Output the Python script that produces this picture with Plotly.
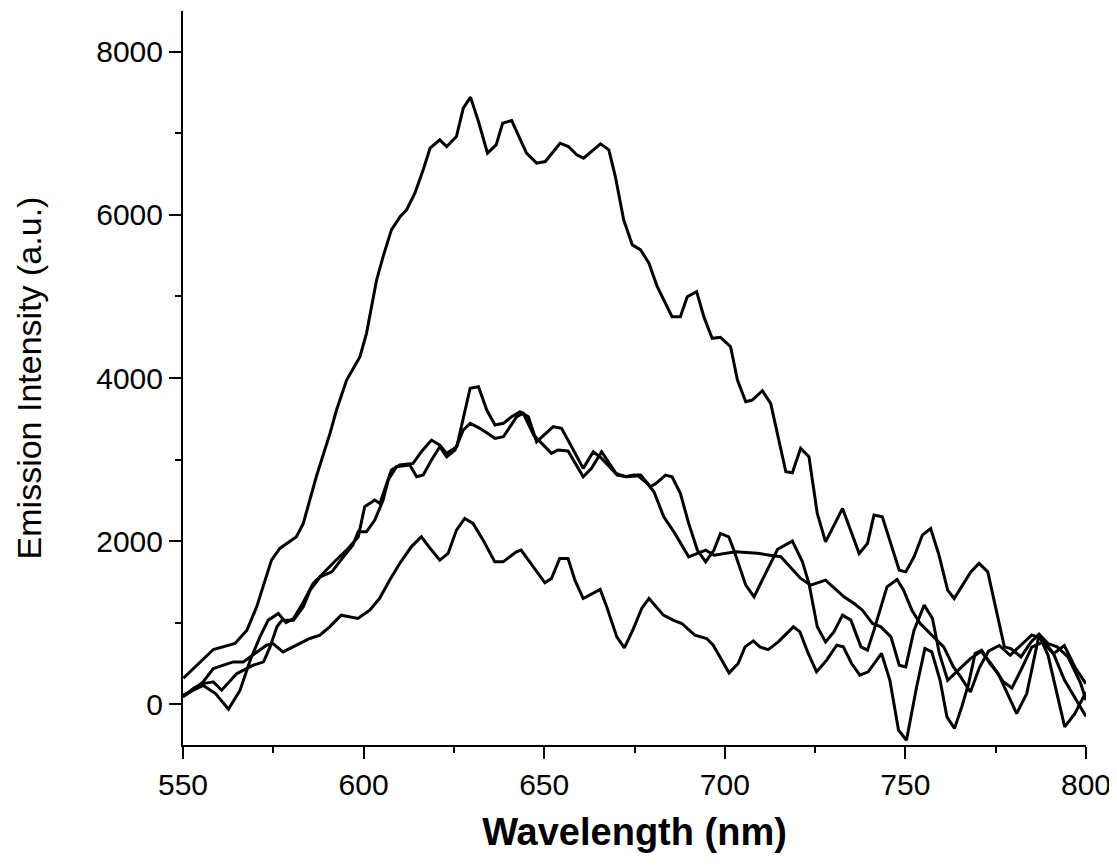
import plotly.graph_objects as go

# Curve A (strongest emission)
a_x = [550.1, 558.4, 564.4, 567.7, 570.4, 574.5, 576.8, 581.4, 583.3, 586.9, 590.7, 592.5, 595.3, 599.0,
       600.8, 603.6, 605.4, 607.7, 610.1, 611.9, 614.2, 616.5, 618.4, 621.1, 623.0, 625.7, 627.6, 629.6,
       631.8, 634.3, 636.7, 638.5, 641.0, 645.1, 647.9, 650.3, 654.4, 656.7, 659.0, 660.9, 665.6, 667.9,
       669.7, 672.0, 674.4, 676.7, 679.0, 681.3, 685.4, 687.7, 689.6, 692.2, 694.2, 696.5, 698.8, 701.6,
       703.5, 705.8, 707.6, 710.4, 712.7, 714.5, 716.9, 718.7, 721.0, 723.3, 725.6, 727.9, 732.6, 737.2,
       739.5, 741.3, 743.6, 748.3, 750.1, 752.4, 754.7, 757.0, 759.3, 761.7, 763.5, 768.1, 770.4, 772.8,
       775.1, 777.4, 779.2, 782.0, 784.8, 787.0, 789.5, 792.0, 795.0, 798.5, 800.0]
a_y = [319, 671, 745, 908, 1194, 1767, 1910, 2053, 2217, 2789, 3321, 3607, 3975, 4262,
       4548, 5202, 5489, 5816, 5979, 6061, 6266, 6552, 6818, 6920, 6838, 6961, 7309, 7444,
       7145, 6757, 6859, 7124, 7157, 6757, 6634, 6654, 6879, 6838, 6736, 6695, 6871, 6798,
       6470, 5939, 5632, 5571, 5407, 5120, 4752, 4752, 4997, 5059, 4752, 4487, 4499, 4384,
       3975, 3709, 3730, 3844, 3689, 3321, 2850, 2838, 3137, 3034, 2339, 1991, 2401, 1849,
       1971, 2319, 2298, 1644, 1623, 1807, 2074, 2155, 1828, 1399, 1296, 1623, 1726, 1623,
       1153, 703, 683, 580, 764, 860, 744, 703, 580, 258, 50]

# Curve B (peak near 630 nm, ~3900)
b_x = [550.0, 552.5, 555.6, 559.0, 562.6, 565.8, 568.6, 571.3, 573.6, 576.4, 578.5, 580.6, 583.3, 586.0,
       589.0, 592.0, 595.5, 598.5, 600.3, 603.1, 604.5, 607.7, 610.0, 613.7, 616.0, 618.8, 621.1, 623.0,
       625.8, 627.6, 629.5, 631.8, 634.1, 636.4, 638.7, 641.0, 643.3, 645.6, 647.9, 652.5, 654.8, 657.1,
       660.8, 663.6, 665.9, 669.8, 672.5, 674.8, 676.7, 679.4, 681.0, 683.6, 685.4, 687.7, 690.0, 692.4,
       694.7, 697.0, 698.8, 701.1, 702.5, 705.8, 708.1, 709.9, 712.3, 714.6, 718.7, 721.5, 723.3, 725.6,
       727.9, 730.2, 732.6, 734.9, 737.7, 739.5, 741.3, 744.9, 747.7, 749.5, 751.8, 754.1, 757.8, 760.6,
       763.3, 765.3, 768.0, 770.5, 773.0, 776.0, 779.0, 782.0, 785.0, 788.0, 791.0, 794.0, 797.0, 800.0]
b_y = [110, 160, 230, 130, -60, 172, 540, 826, 1031, 1113, 1000, 1050, 1250, 1480,
       1620, 1750, 1900, 2050, 2421, 2503, 2462, 2871, 2933, 2953, 3096, 3239, 3178, 3076,
       3158, 3526, 3874, 3893, 3607, 3423, 3444, 3526, 3587, 3526, 3218, 3403, 3383, 3198,
       2892, 3096, 3014, 2830, 2789, 2810, 2810, 2667, 2708, 2810, 2789, 2585, 2217, 1890,
       1746, 1890, 2094, 2053, 1890, 1460, 1317, 1480, 1685, 1900, 2000, 1746, 1480, 949,
       764, 887, 1092, 1031, 703, 663, 908, 1439, 1530, 1399, 1153, 990, 826, 703,
       458, 335, 150, 450, 650, 720, 600, 720, 850, 800, 620, 720, 450, 250]

# Curve C (peak near 643 nm, ~3600)
c_x = [550.0, 553.0, 555.6, 558.4, 560.7, 564.9, 569.5, 572.3, 574.1, 576.0, 577.4, 580.6, 583.3, 585.2,
       588.0, 591.2, 594.4, 597.0, 598.5, 600.8, 603.1, 605.4, 606.8, 609.1, 612.8, 614.7, 616.5, 618.8,
       621.1, 623.0, 625.3, 627.6, 629.5, 632.2, 636.4, 638.7, 642.4, 644.2, 647.1, 652.0, 653.8, 656.6,
       660.8, 663.1, 665.9, 670.2, 673.0, 676.0, 678.5, 680.4, 683.1, 685.9, 690.0, 692.4, 694.7, 697.0,
       700.0, 703.0, 706.0, 709.0, 712.0, 715.5, 721.0, 723.8, 727.9, 733.0, 735.8, 738.1, 740.9, 743.2,
       746.0, 748.3, 750.1, 752.4, 755.2, 757.5, 759.4, 761.7, 765.6, 768.0, 771.0, 774.0, 777.0, 779.5,
       782.0, 785.0, 788.0, 791.0, 794.0, 797.0, 800.0]
c_y = [90, 200, 253, 274, 172, 376, 479, 519, 703, 949, 1031, 1031, 1194, 1399,
       1562, 1623, 1807, 1950, 2114, 2114, 2258, 2503, 2749, 2912, 2933, 2789, 2810, 2994,
       3158, 3034, 3117, 3362, 3444, 3383, 3260, 3280, 3526, 3567, 3301, 3076, 3117, 3105,
       2789, 2892, 3096, 2810, 2790, 2800, 2708, 2605, 2298, 2114, 1807, 1849, 1890, 1828,
       1850, 1870, 1860, 1850, 1830, 1808, 1542, 1460, 1521, 1317, 1235, 1153, 990, 949,
       826, 478, 458, 908, 1215, 1051, 622, 294, 458, 560, 650, 480, 280, 200,
       420, 700, 760, 620, 300, 80, -150]

# Curve D (weakest emission, peak ~2250)
d_x = [550.0, 552.0, 555.5, 558.4, 563.9, 566.7, 573.1, 574.9, 577.7, 582.3, 585.1, 587.9, 590.6, 593.8,
       598.4, 601.7, 604.4, 607.2, 610.0, 613.2, 616.0, 618.8, 621.1, 623.4, 625.7, 628.0, 630.3, 633.1,
       636.3, 638.6, 642.3, 643.6, 646.9, 650.2, 652.0, 654.3, 656.6, 658.5, 660.8, 665.5, 667.3, 670.1,
       672.2, 674.7, 677.0, 679.0, 683.0, 685.7, 688.1, 691.7, 695.0, 696.8, 701.2, 703.7, 705.6, 707.9,
       709.7, 712.0, 714.8, 719.0, 720.8, 723.1, 725.4, 728.2, 731.0, 732.8, 735.1, 737.4, 739.7, 743.4,
       745.7, 748.1, 750.3, 753.1, 755.4, 757.3, 759.6, 761.5, 763.6, 765.6, 767.5, 769.3, 771.1, 773.4,
       775.7, 780.8, 783.6, 785.0, 787.0, 789.5, 794.1, 796.9, 798.7, 800.0]
d_y = [90, 150, 270, 437, 519, 519, 724, 744, 642, 744, 806, 847, 949, 1092,
       1051, 1153, 1296, 1521, 1726, 1930, 2053, 1890, 1767, 1849, 2135, 2278, 2217, 2012,
       1746, 1746, 1869, 1890, 1685, 1489, 1542, 1787, 1787, 1521, 1296, 1407, 1194, 826,
       691, 928, 1174, 1296, 1092, 1031, 990, 847, 806, 724, 384, 499, 703, 777,
       703, 670, 764, 949, 887, 622, 397, 540, 724, 703, 499, 356, 397, 622,
       294, -319, -442, 212, 683, 642, 294, -156, -298, -33, 253, 622, 663, 499,
       376, -115, 130, 417, 847, 600, -278, -115, 49, 150]

x_ticks = [550, 600, 650, 700, 750, 800]
y_ticks = [0, 2000, 4000, 6000, 8000]

FONT = "Liberation Sans, Arial, sans-serif"

fig = go.Figure()
for xs, ys in [(d_x, d_y), (c_x, c_y), (b_x, b_y), (a_x, a_y)]:
    fig.add_trace(go.Scatter(x=xs, y=ys, mode="lines",
                             line=dict(color="black", width=3),
                             showlegend=False, hoverinfo="skip"))

fig.update_layout(
    width=1109, height=858,
    margin=dict(l=175, r=31, t=3, b=121),
    paper_bgcolor="white", plot_bgcolor="white",
    font=dict(family=FONT, color="black"),
    showlegend=False,
)
fig.update_xaxes(
    automargin=False,
    range=[550, 800], tickvals=x_ticks, ticktext=[str(v) for v in x_ticks],
    showgrid=False, zeroline=False, showline=True, linecolor="black", linewidth=2,
    ticks="outside", ticklen=12, tickwidth=2, tickcolor="black",
    minor=dict(dtick=25, tick0=550, ticks="outside", ticklen=6, tickwidth=2, tickcolor="black", showgrid=False),
    tickfont=dict(size=30, family=FONT),
    title=dict(text="<b>Wavelength (nm)</b>", font=dict(size=38, family=FONT), standoff=18),
)
fig.update_yaxes(
    automargin=False,
    range=[-500, 8500], tickvals=y_ticks, ticktext=[str(v) for v in y_ticks],
    showgrid=False, zeroline=False, showline=True, linecolor="black", linewidth=2,
    ticks="outside", ticklen=12, tickwidth=2, tickcolor="black",
    minor=dict(dtick=1000, tick0=0, ticks="outside", ticklen=6, tickwidth=2, tickcolor="black", showgrid=False),
    tickfont=dict(size=30, family=FONT),
    title=dict(text="Emission Intensity (a.u.)", font=dict(size=34, family=FONT), standoff=44),
)

fig.write_html("out.html")
